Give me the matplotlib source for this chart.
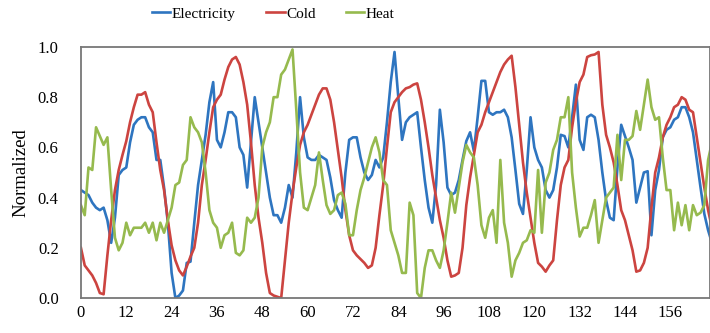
import matplotlib
matplotlib.use("Agg")
import matplotlib.pyplot as plt
import numpy as np

hours = list(range(168))

electricity = [
0.43,0.42,0.41,0.38,0.36,0.35,0.36,0.31,0.22,0.32,
0.49,0.51,0.52,0.62,0.69,0.71,0.72,0.72,0.68,0.66,
0.55,0.55,0.44,0.30,0.10,0.00,0.01,0.03,0.14,0.145,
0.30,0.45,0.55,0.65,0.78,0.86,0.63,0.60,0.66,0.74,
0.74,0.72,0.60,0.57,0.44,0.62,0.80,0.70,0.60,0.50,
0.40,0.33,0.33,0.30,0.36,0.45,0.40,0.58,0.80,0.64,
0.56,0.55,0.55,0.57,0.56,0.55,0.48,0.39,0.35,0.32,
0.50,0.63,0.64,0.64,0.56,0.50,0.47,0.49,0.55,0.52,
0.56,0.70,0.86,0.98,0.80,0.63,0.70,0.72,0.73,0.74,
0.60,0.47,0.36,0.30,0.45,0.75,0.62,0.44,0.41,0.42,
0.47,0.55,0.625,0.66,0.585,0.72,0.865,0.865,0.74,0.73,
0.74,0.74,0.75,0.72,0.64,0.51,0.375,0.335,0.51,0.72,
0.60,0.55,0.52,0.43,0.40,0.43,0.52,0.65,0.645,0.60,
0.72,0.85,0.63,0.59,0.72,0.73,0.72,0.63,0.50,0.39,
0.32,0.31,0.52,0.69,0.645,0.60,0.55,0.38,0.44,0.50,
0.505,0.25,0.43,0.51,0.64,0.67,0.68,0.71,0.72,0.76,
0.76,0.72,0.66,0.55,0.44,0.335,0.27,0.22]

cold = [
0.20,0.13,0.11,0.09,0.06,0.02,0.015,0.17,0.31,0.43,
0.51,0.57,0.625,0.70,0.76,0.81,0.81,0.82,0.77,0.74,
0.62,0.51,0.43,0.31,0.21,0.15,0.11,0.09,0.125,0.165,
0.20,0.30,0.45,0.55,0.66,0.76,0.79,0.81,0.87,0.92,
0.95,0.96,0.93,0.86,0.77,0.62,0.45,0.32,0.22,0.10,
0.02,0.01,0.005,0.0,0.15,0.30,0.42,0.52,0.61,0.66,
0.69,0.73,0.77,0.81,0.835,0.835,0.79,0.70,0.59,0.48,
0.35,0.25,0.19,0.17,0.155,0.14,0.12,0.13,0.20,0.33,
0.45,0.60,0.74,0.78,0.80,0.82,0.835,0.84,0.85,0.855,
0.79,0.70,0.60,0.49,0.40,0.31,0.24,0.15,0.085,0.09,
0.10,0.20,0.37,0.48,0.57,0.66,0.69,0.74,0.78,0.82,
0.86,0.90,0.93,0.95,0.965,0.84,0.69,0.54,0.42,0.32,
0.22,0.14,0.125,0.105,0.13,0.15,0.31,0.45,0.52,0.55,
0.68,0.78,0.86,0.89,0.96,0.967,0.97,0.98,0.77,0.65,
0.60,0.54,0.45,0.35,0.31,0.25,0.19,0.105,0.11,0.14,
0.20,0.36,0.50,0.56,0.64,0.69,0.72,0.76,0.77,0.80,
0.79,0.75,0.74,0.64,0.54,0.44,0.35,0.28]

heat = [
0.37,0.33,0.52,0.51,0.68,0.645,0.61,0.64,0.43,0.24,
0.19,0.22,0.30,0.25,0.28,0.28,0.28,0.30,0.26,0.30,
0.23,0.30,0.26,0.31,0.36,0.45,0.46,0.53,0.55,0.72,
0.68,0.66,0.62,0.50,0.35,0.30,0.28,0.20,0.25,0.26,
0.30,0.18,0.17,0.19,0.32,0.30,0.32,0.40,0.60,0.66,
0.70,0.80,0.80,0.89,0.91,0.95,0.99,0.75,0.50,0.36,
0.35,0.40,0.45,0.58,0.47,0.37,0.335,0.35,0.41,0.42,
0.375,0.25,0.25,0.35,0.43,0.48,0.54,0.60,0.64,0.58,
0.47,0.45,0.27,0.22,0.17,0.10,0.10,0.38,0.33,0.02,
0.0,0.12,0.19,0.19,0.15,0.12,0.19,0.30,0.42,0.34,
0.44,0.54,0.61,0.58,0.56,0.45,0.29,0.24,0.32,0.35,
0.22,0.55,0.30,0.22,0.085,0.15,0.18,0.22,0.23,0.27,
0.26,0.51,0.26,0.46,0.50,0.59,0.63,0.72,0.72,0.80,
0.50,0.36,0.245,0.28,0.28,0.33,0.39,0.22,0.31,0.40,
0.42,0.44,0.65,0.47,0.63,0.63,0.645,0.745,0.67,0.77,
0.87,0.76,0.71,0.72,0.56,0.43,0.43,0.27,0.38,0.29,
0.37,0.27,0.37,0.33,0.34,0.37,0.55,0.62]

series_names = ["Electricity", "Cold", "Heat"]
colors = ["#2E75C0", "#CC4440", "#96BA4E"]
x_ticks = list(range(0, 168, 12))
y_ticks = [0.0, 0.2, 0.4, 0.6, 0.8, 1.0]

plt.rcParams['font.family'] = ['Liberation Serif', 'DejaVu Serif']

fig = plt.figure(figsize=(7.10, 3.33), dpi=100)
ax = fig.add_axes([0.114, 0.105, 0.886, 0.754])

for vals, name, c in zip([electricity, cold, heat], series_names, colors):
    ax.plot(hours, vals, color=c, lw=1.9, label=name, solid_joinstyle='round')

ax.set_xlim(0, 166.5)
ax.set_ylim(0, 1.0)
ax.set_xticks(x_ticks)
ax.set_xticklabels([str(t) for t in x_ticks])
ax.set_yticks(y_ticks)
ax.set_yticklabels([f"{t:.1f}" for t in y_ticks])
ax.tick_params(labelsize=12, length=0)
ax.tick_params(axis='y', pad=16)
ax.tick_params(axis='x', pad=5)
ax.set_ylabel("Normalized", fontsize=13.5, labelpad=6)
for s in ax.spines.values():
    s.set_color("#777777")
    s.set_linewidth(1.3)

leg = fig.legend(loc="upper center", bbox_to_anchor=(0.385, 1.02), ncol=3, frameon=False,
                 fontsize=11, handlelength=1.2, handletextpad=0.1, columnspacing=2.0)

fig.savefig("out.png", dpi=100)
